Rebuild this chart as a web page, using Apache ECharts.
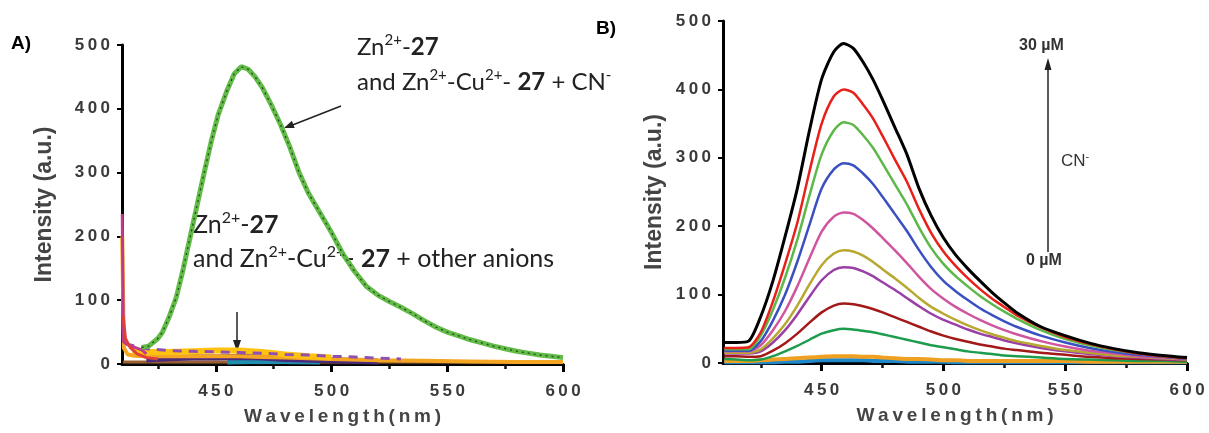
<!DOCTYPE html>
<html><head><meta charset="utf-8">
<script src="https://cdn.jsdelivr.net/npm/echarts@6/dist/echarts.min.js"></script>
<style>html,body{margin:0;padding:0;background:#fff}#c{width:1209px;height:433px}</style>
</head><body><div id="c"></div>
<script>
// ---------- Panel A data ----------
const aGreen = [[418,26],[421,28],[425,40],[427,50],[430,75],[433,105],[436,150],[439,200],[442,250],[445,300],[448,348],[451,390],[455,430],[458,455],[461,466],[464,462],[467,450],[470,434],[474,406],[478,375],[482,340],[486,300],[490,268],[495,237],[500,206],[505,172],[510,145],[515,122],[520,108],[525,98],[530,89],[535,79],[540,68],[545,58],[550,50],[555,44],[560,38],[565,33],[570,28],[575,24],[580,20],[585,17],[590,14],[595,12],[600,10]];
const aMagenta = [[409.6,235],[410.1,35],[412,30],[415,26],[418,22],[420,16]];
const aOrange = [[409.6,200],[410.3,25],[412,15],[415,13],[420,12],[430,12],[440,12],[450,12],[460,12],[470,11],[480,10],[490,9],[500,8],[520,6],[540,5],[560,4],[580,3],[600,3]];
const aRed = [[410,75],[411,40],[413,26],[416,16],[420,10],[425,8]];
const aPurpleDash = [[411,32],[415,28],[420,24],[430,21],[440,20],[450,19],[460,18],[470,17],[480,15],[490,14],[500,12],[510,11],[520,9],[530,8]];
const aGold = [[414,21],[420,19],[430,19],[440,20],[450,21],[460,21],[470,19],[480,15],[490,12],[500,10]];
const aDarkPurple = [[420,7],[430,9],[440,10],[450,10],[460,11],[470,10],[480,8],[500,6],[520,4]];
const aTeal = [[455,3],[465,4],[480,4],[495,3]];
const aBrown = [[410,3],[450,3],[500,3],[550,3],[600,3]];
const aBlack = [[410,1],[500,1],[600,1]];

// ---------- Panel B data ----------
const wlB = [410,415,420,425,430,435,440,445,450,455,459,463,467,471,475,480,485,490,495,500,505,510,515,520,525,530,540,550,560,570,580,590,600];
const bBlack  = [30,30,32,68,120,185,255,340,415,455,467,460,440,415,385,345,305,255,215,183,158,138,120,103,88,74,53,40,29,21,15,11,8];
const bRed    = [22,22,23,45,90,145,205,280,350,390,400,395,378,358,332,298,265,225,190,163,142,124,108,94,82,70,52,38,28,20,14,10,7];
const bGreen  = [20,20,20,40,78,125,180,245,305,340,352,348,333,315,292,262,232,198,168,145,127,112,98,86,75,65,48,35,26,19,14,10,7];
const bBlue   = [18,18,18,32,62,100,148,202,255,283,292,289,277,262,243,218,193,165,140,120,105,92,80,70,61,53,40,30,22,16,12,9,6];
const bPink   = [17,17,17,26,48,76,112,153,192,214,220,218,209,197,183,165,146,126,108,94,82,72,63,55,48,42,32,24,18,14,10,8,6];
const bOlive  = [15,15,15,20,36,57,84,115,143,160,165,163,157,148,137,124,110,95,82,72,63,55,48,42,37,32,25,19,15,11,9,7,5];
const bPurple = [14,14,14,17,30,48,71,97,121,136,140,139,134,127,118,107,95,83,72,63,56,49,43,38,33,29,22,17,13,10,8,6,5];
const bDarkRed= [10,10,9,10,18,29,43,59,74,84,87,86,83,79,74,67,60,53,46,40,35,31,27,24,21,19,15,12,9,7,6,5,4];
const bDkGreen= [6,5,4,5,10,17,25,34,43,48,50,49,47,45,42,38,34,30,26,23,20,17,15,13,11,10,8,6,5,4,3,3,2];
const bOrange = [3,3,3,4,5,6,7,8,9,10,10,10,9,9,8,7,6,6,5,4,4,3,3,3,3,3,3,3,2,2,2,2,2];
const bCyan   = [1,1,1,1,1,2,2,3,4,4,4,4,4,3,3,3,2,2,2,2,1,1,1,1,1,1,1,1,1,1,1,1,1];

const xLabelVals = [450,500,550,600];
const xMinorVals = [425,475,525,575];

const TS = '\u2009';
const spaced = s => String(s).split('').join(TS);

function xAx(gi, hidden){
  if (hidden) return {type:'value',gridIndex:gi,min:409.5,max:600,position:'bottom',
    axisLine:{show:false},splitLine:{show:false},axisLabel:{show:false},
    axisTick:{show:true,inside:false,length:5,lineStyle:{color:'#111',width:2.5},customValues:xMinorVals}};
  return {type:'value',gridIndex:gi,min:409.5,max:600,
    name:spaced('Wavelength(nm)'),nameLocation:'middle',nameGap:43,
    nameTextStyle:{fontFamily:'Liberation Sans',fontWeight:'bold',fontSize:19,color:'#454545'},
    axisLine:{lineStyle:{color:'#000',width:3}},
    axisTick:{length:8,lineStyle:{color:'#000',width:3},customValues:xLabelVals},
    axisLabel:{customValues:xLabelVals,margin:19,fontFamily:'Liberation Sans',fontWeight:'bold',fontSize:17,color:'#3a3a3a',formatter:v=>spaced(v)},
    splitLine:{show:false}};
}
function yAx(gi,gap){
  return {type:'value',gridIndex:gi,min:0,max:500,interval:100,
    name:'Intensity (a.u.)',nameLocation:'middle',nameGap:gap,
    nameTextStyle:{fontFamily:'Liberation Sans',fontWeight:'bold',fontSize:23,color:'#444'},
    axisLine:{lineStyle:{color:'#000',width:3}},
    axisTick:{length:5,lineStyle:{color:'#000',width:2}},
    axisLabel:{margin:12,fontFamily:'Liberation Sans',fontWeight:'bold',fontSize:17,color:'#3a3a3a',formatter:v=>spaced(v)},
    splitLine:{show:false}};
}

const series = [];
function addA(data,color,width,type,z){
  series.push({type:'line',xAxisIndex:0,yAxisIndex:0,data:data,showSymbol:false,smooth:false,
    lineStyle:{color:color,width:width,type:type||'solid'},z:z||2,silent:true});
}
addA(aBlack,'#111',3);
addA(aBrown,'#9a6030',3);
addA(aTeal,'#1f8fb0',5);
addA(aDarkPurple,'#4b2a7a',6);
addA(aOrange,'#f4a521',4);
addA(aGold,'#ffc20e',6);
addA(aPurpleDash,'#9050b0',3,[9,7]);
addA(aMagenta,'#c03a8c',3);
addA(aRed,'#e0403a',3);
addA(aGreen,'#62bb47',5,'solid',3);
addA(aGreen,'#1d4a1d',1.3,[2,4],4);

const bList = [[bCyan,'#1e88c8',4],[bOrange,'#f0a020',4],[bDkGreen,'#1c9c4c',2.5],[bDarkRed,'#a31818',2.5],[bPurple,'#9a3fa6',2.5],[bOlive,'#b8a830',2.5],[bPink,'#d0559f',2.5],[bBlue,'#3a50c0',2.5],[bGreen,'#5cb848',2.5],[bRed,'#e8201a',2.5],[bBlack,'#000',3]];
bList.forEach(([arr,c,w])=>{
  series.push({type:'line',xAxisIndex:1,yAxisIndex:1,data:wlB.map((x,i)=>[x,arr[i]]),showSymbol:false,smooth:0.25,
    lineStyle:{color:c,width:w},silent:true});
});

const annFont = 'Lato';
function richLine(x,y,txt,fs){
  return {type:'text',left:x,top:y,style:{text:txt,fill:'#222',font:fs+'px '+annFont,
    rich:{n:{fontSize:fs,fontFamily:annFont,color:'#222'},
          s:{fontSize:Math.round(fs*0.62),fontFamily:annFont,color:'#222',padding:[0,0,13,0]},
          b:{fontSize:fs,fontFamily:annFont,fontWeight:'bold',color:'#222'}}}};
}

const chart = echarts.init(document.getElementById('c'),null,{renderer:'canvas'});
chart.setOption({
  animation:false,
  grid:[{left:122,right:646,top:45,bottom:69},{left:723,right:22,top:21,bottom:70}],
  xAxis:[xAx(0),xAx(1),xAx(0,true),xAx(1,true)],
  yAxis:[yAx(0,66),yAx(1,57)],
  series:series,
  graphic:[
    {type:'text',left:11,top:34,style:{text:'A)',font:'bold 19px "Liberation Sans"',fill:'#000'}},
    {type:'text',left:596,top:19,style:{text:'B)',font:'bold 19px "Liberation Sans"',fill:'#000'}},
    richLine(357,33,'{n|Zn}{s|2+}{n|-}{b|27}',24),
    richLine(357,68,'{n|and Zn}{s|2+}{n|-Cu}{s|2+}{n|- }{b|27}{n| + CN}{s|-}',24),
    richLine(193,210,'{n|Zn}{s|2+}{n|-}{b|27}',25),
    richLine(193,244,'{n|and Zn}{s|2+}{n|-Cu}{s|2+}{n|- }{b|27}{n| + other anions}',25),
    {type:'polyline',shape:{points:[[341,106],[290,126]]},style:{stroke:'#222',lineWidth:1.5}},
    {type:'polygon',shape:{points:[[284,128],[294.7,128.1],[291.9,120.7]]},style:{fill:'#222'}},
    {type:'polyline',shape:{points:[[237,312],[237,344]]},style:{stroke:'#222',lineWidth:1.5}},
    {type:'polygon',shape:{points:[[237,352],[233,340],[241,340]]},style:{fill:'#222'}},
    {type:'polyline',shape:{points:[[1048,252],[1048,66]]},style:{stroke:'#222',lineWidth:1.5}},
    {type:'polygon',shape:{points:[[1048,58],[1044.5,70],[1051.5,70]]},style:{fill:'#222'}},
    {type:'text',left:1019,top:38,style:{text:'30 \u00b5M',font:'bold 16px "Liberation Sans"',fill:'#333'}},
    {type:'text',left:1026,top:253,style:{text:'0 \u00b5M',font:'bold 16px "Liberation Sans"',fill:'#333'}},
    {type:'text',left:1061,top:151,style:{text:'CN{s|-}',font:'17px "Liberation Sans"',fill:'#333',
      rich:{s:{fontSize:11,fontFamily:'Liberation Sans',color:'#333',padding:[0,0,9,0]}}}}
  ]
});
</script></body></html>
